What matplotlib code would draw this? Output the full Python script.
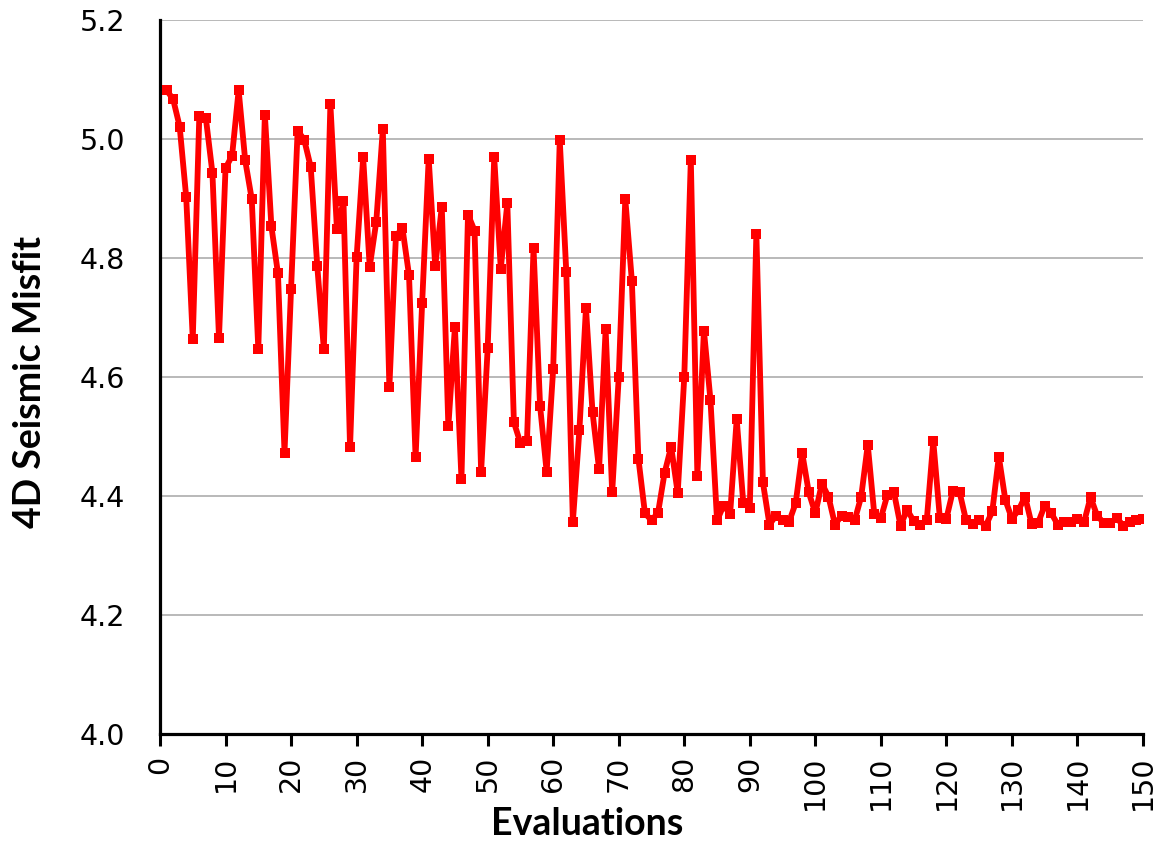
import matplotlib
matplotlib.use("Agg")

import matplotlib.pyplot as plt
import numpy as np


evaluations = np.arange(1, 151)
misfit = [
    5.082, 5.067, 5.021, 4.902, 4.664, 5.039, 5.035, 4.943, 4.666, 4.951,   # 1-10
    4.972, 5.082, 4.964, 4.899, 4.647, 5.041, 4.853, 4.774, 4.473, 4.748,   # 11-20
    5.014, 4.999, 4.953, 4.786, 4.647, 5.058, 4.848, 4.895, 4.482, 4.801,   # 21-30
    4.969, 4.785, 4.861, 5.016, 4.583, 4.837, 4.850, 4.771, 4.465, 4.724,   # 31-40
    4.967, 4.786, 4.886, 4.517, 4.684, 4.429, 4.873, 4.846, 4.441, 4.648,   # 41-50
    4.969, 4.782, 4.892, 4.524, 4.489, 4.493, 4.816, 4.551, 4.441, 4.614,   # 51-60
    4.998, 4.776, 4.357, 4.511, 4.716, 4.541, 4.445, 4.680, 4.406, 4.600,   # 61-70
    4.899, 4.762, 4.463, 4.371, 4.359, 4.372, 4.439, 4.483, 4.405, 4.600,   # 71-80
    4.965, 4.434, 4.678, 4.561, 4.359, 4.384, 4.370, 4.529, 4.389, 4.380,   # 81-90
    4.841, 4.423, 4.352, 4.367, 4.359, 4.357, 4.388, 4.472, 4.406, 4.371,   # 91-100
    4.421, 4.399, 4.352, 4.367, 4.365, 4.359, 4.399, 4.486, 4.369, 4.363,   # 101-110
    4.402, 4.406, 4.350, 4.377, 4.358, 4.352, 4.359, 4.492, 4.363, 4.362,   # 111-120
    4.409, 4.407, 4.359, 4.353, 4.359, 4.350, 4.374, 4.466, 4.393, 4.362,   # 121-130
    4.376, 4.399, 4.353, 4.355, 4.384, 4.371, 4.352, 4.356, 4.357, 4.361,   # 131-140
    4.356, 4.398, 4.367, 4.355, 4.355, 4.363, 4.350, 4.356, 4.360, 4.362,   # 141-150
]

x_ticks = np.arange(0, 151, 10)
y_ticks = [4.0, 4.2, 4.4, 4.6, 4.8, 5.0, 5.2]

# Schrift fuer Achsentitel (humanistisch + fett, wie Calibri im Original)
LABEL_FONT = ["Lato", "DejaVu Sans"]
TICK_FONT = ["DejaVu Sans"]

fig = plt.figure(figsize=(11.61, 8.42), dpi=100)
ax = fig.add_axes([160 / 1161, 1 - 734 / 842, 983 / 1161, 714 / 842])

ax.plot(
    evaluations, misfit,
    color="#ff0000", linewidth=4.2,
    marker="s", markersize=7, markeredgewidth=0,
    solid_joinstyle="round", zorder=3,
)

ax.set_xlim(0, 150)
ax.set_ylim(4.0, 5.2)
ax.set_xticks(x_ticks)
ax.set_yticks(y_ticks)
ax.set_xticklabels([str(t) for t in x_ticks], rotation=90, fontsize=20.5, family=TICK_FONT)
ax.set_yticklabels([f"{t:.1f}" for t in y_ticks], fontsize=20.5, family=TICK_FONT)

# nur horizontale Gitterlinien
ax.yaxis.grid(True, color="#a6a6a6", linewidth=1.1)
ax.set_axisbelow(True)

for side in ["top", "right"]:
    ax.spines[side].set_visible(False)
for side in ["left", "bottom"]:
    ax.spines[side].set_linewidth(2.3)
    ax.spines[side].set_color("black")

ax.tick_params(axis="y", length=0, pad=25)
ax.tick_params(axis="x", length=8.5, width=2.2, direction="out", pad=7)

ax.set_xlabel("Evaluations", fontsize=27, fontweight="bold", family=LABEL_FONT, va="center")
ax.set_ylabel("4D Seismic Misfit", fontsize=27, fontweight="bold", family=LABEL_FONT, va="center")
ax.xaxis.set_label_coords((587 - 160) / 983, (734 - 824) / 714)
ax.yaxis.set_label_coords((30 - 160) / 983, (734 - 382) / 714)

fig.savefig("out.png", dpi=100)
